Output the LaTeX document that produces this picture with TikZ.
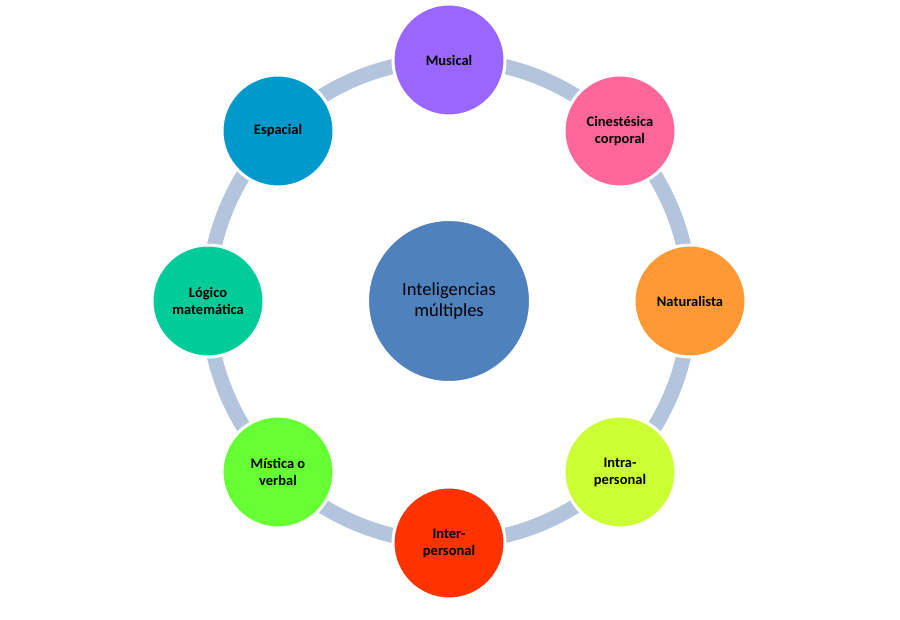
\documentclass[tikz,border=0pt]{standalone}
\usepackage{fontspec}
\setmainfont{Carlito}
\usepackage{xcolor}
\definecolor{ringblue}{HTML}{B3C5DD}
\definecolor{centerblue}{HTML}{4F81BD}
\definecolor{musicpurple}{HTML}{9966FF}
\definecolor{kinpink}{HTML}{FF6699}
\definecolor{natorange}{HTML}{FF9933}
\definecolor{intralime}{HTML}{CCFF33}
\definecolor{interred}{HTML}{FF3300}
\definecolor{verbalgreen}{HTML}{66FF33}
\definecolor{logicteal}{HTML}{00CC99}
\definecolor{spaceblue}{HTML}{0099CC}

\tikzset{
    bubble/.style={circle, draw=white, line width=3pt, minimum size=112pt, inner sep=0,
        align=center, font=\fontsize{14.5}{17}\selectfont\bfseries, text=black},
    hub/.style={circle, draw=white, line width=3pt, minimum size=163pt, inner sep=0,
        align=center, font=\fontsize{18.5}{21}\selectfont, text=black, fill=centerblue},
    ring/.style={draw=ringblue, line width=15pt}
}

\begin{document}
\begin{tikzpicture}[x=1pt, y=1pt]
    \useasboundingbox (0,0) rectangle (900,620);

    \coordinate (mid) at (449,319);
    \draw[ring] (mid) circle (241pt);
    \node[hub] (core) at (mid) {Inteligencias\\múltiples};

    \node[bubble, fill=musicpurple] (musical) at (449,560) {Musical};
    \node[bubble, fill=kinpink] (kines) at (620,489) {Cinestésica\\corporal};
    \node[bubble, fill=natorange] (natur) at (690,319) {Naturalista};
    \node[bubble, fill=intralime] (intra) at (620,148) {Intra-\\personal};
    \node[bubble, fill=interred] (inter) at (449,77) {Inter-\\personal};
    \node[bubble, fill=verbalgreen] (verbal) at (278,148) {Mística o\\verbal};
    \node[bubble, fill=logicteal] (logic) at (208,319) {Lógico\\matemática};
    \node[bubble, fill=spaceblue] (space) at (278,489) {Espacial};
\end{tikzpicture}
\end{document}
